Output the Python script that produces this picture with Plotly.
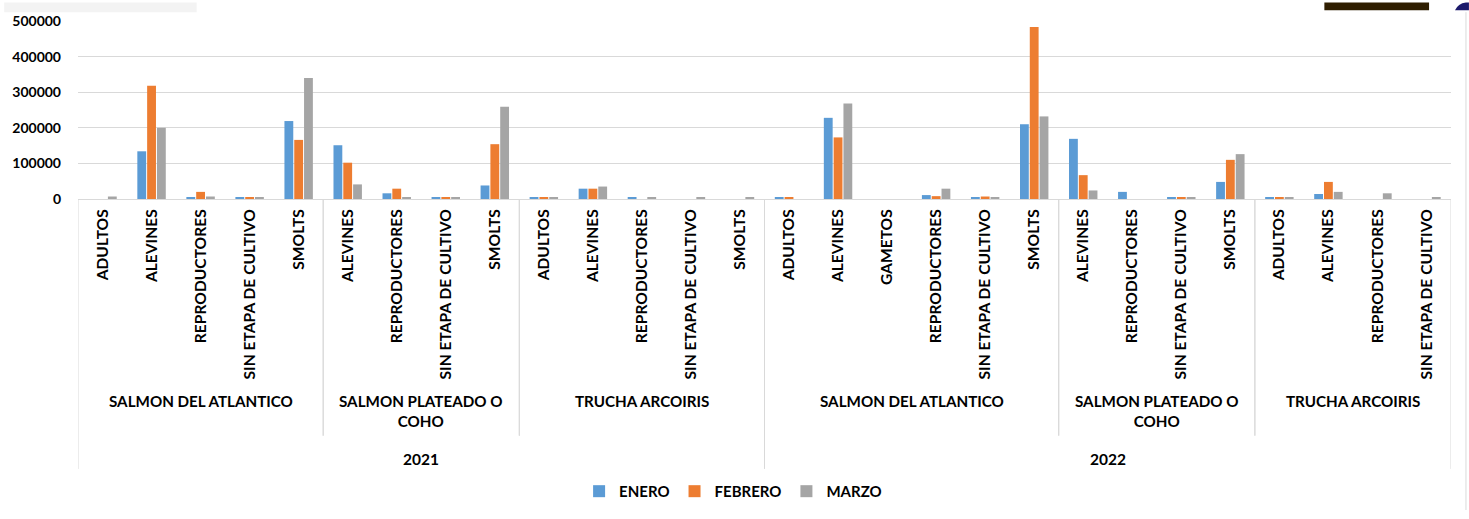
import plotly.graph_objects as go

# ---------------- data ----------------
years = ["2021"] * 14 + ["2022"] * 14
species = (["SALMON DEL ATLANTICO"] * 5 + ["SALMON PLATEADO O COHO"] * 4 + ["TRUCHA ARCOIRIS"] * 5 +
           ["SALMON DEL ATLANTICO"] * 6 + ["SALMON PLATEADO O COHO"] * 4 + ["TRUCHA ARCOIRIS"] * 4)
stages = ["ADULTOS", "ALEVINES", "REPRODUCTORES", "SIN ETAPA DE CULTIVO", "SMOLTS",
          "ALEVINES", "REPRODUCTORES", "SIN ETAPA DE CULTIVO", "SMOLTS",
          "ADULTOS", "ALEVINES", "REPRODUCTORES", "SIN ETAPA DE CULTIVO", "SMOLTS",
          "ADULTOS", "ALEVINES", "GAMETOS", "REPRODUCTORES", "SIN ETAPA DE CULTIVO", "SMOLTS",
          "ALEVINES", "REPRODUCTORES", "SIN ETAPA DE CULTIVO", "SMOLTS",
          "ADULTOS", "ALEVINES", "REPRODUCTORES", "SIN ETAPA DE CULTIVO"]

enero = [0, 134000, 4000, 3000, 219000,
         151000, 16000, 3000, 38000,
         3000, 29000, 3000, 0, 0,
         3000, 228000, 0, 11000, 3000, 210000,
         169000, 20000, 3000, 48000,
         3000, 14000, 0, 0]
febrero = [0, 318000, 20000, 3000, 166000,
           102000, 29000, 3000, 154000,
           3000, 29000, 0, 0, 0,
           3000, 173000, 0, 8000, 7000, 483000,
           67000, 0, 3000, 110000,
           3000, 48000, 0, 0]
marzo = [7000, 200000, 7000, 3000, 340000,
         41000, 3000, 3000, 259000,
         3000, 35000, 3000, 3000, 3000,
         0, 268000, 0, 29000, 3000, 232000,
         24000, 0, 3000, 126000,
         3000, 20000, 16000, 3000]

series_names = ["ENERO", "FEBRERO", "MARZO"]
series_colors = ["#5B9BD5", "#ED7D31", "#A5A5A5"]
y_ticks = [0, 100000, 200000, 300000, 400000, 500000]

# ---------------- figure ----------------
FONT = "Lato, Calibri, Carlito, sans-serif"
W, H = 1469, 519
ML, MR, MT, MB = 74, 18, 19, 318
plot_h = H - MT - MB


def py(px):
    """pixel row -> paper y"""
    return (H - MB - px) / plot_h


x = list(range(len(stages)))
fig = go.Figure()
for name, vals, col in zip(series_names, [enero, febrero, marzo], series_colors):
    fig.add_trace(go.Bar(x=x, y=vals, name=name, marker=dict(color=col, line=dict(width=0))))


def runs(keys):
    out = []
    start = 0
    for i in range(1, len(keys) + 1):
        if i == len(keys) or keys[i] != keys[start]:
            out.append((start, i - 1, keys[start]))
            start = i
    return out


sp_keys = [(y, s) for y, s in zip(years, species)]
sp_runs = runs(sp_keys)
yr_runs = runs(years)

shapes = []
annotations = []
line_col = "#D9D9D9"

for a, b, key in sp_runs:
    label = key[1]
    if label == "SALMON PLATEADO O COHO":
        label = "SALMON PLATEADO O<br>COHO"
    annotations.append(dict(x=(a + b) / 2, y=py(396), xref="x", yref="paper", text=label,
                            showarrow=False, yanchor="top", xanchor="center",
                            font=dict(family=FONT, size=15.2, color="#000000", weight="bold")))
yr_bounds = set()
for a, b, key in yr_runs:
    yr_bounds.add(a - 0.5)
    yr_bounds.add(b + 0.5)
    annotations.append(dict(x=(a + b) / 2, y=py(467), xref="x", yref="paper", text=key,
                            showarrow=False, yanchor="middle", xanchor="center",
                            font=dict(family=FONT, size=15.5, color="#000000", weight="bold")))
for a, b, key in sp_runs:
    for xb in (a - 0.5, b + 0.5):
        if xb not in yr_bounds:
            shapes.append(dict(type="line", xref="x", yref="paper", x0=xb, x1=xb,
                               y0=0, y1=py(443), line=dict(color=line_col, width=1)))
for xb in sorted(yr_bounds):
    shapes.append(dict(type="line", xref="x", yref="paper", x0=xb, x1=xb,
                       y0=0, y1=py(477), line=dict(color=line_col, width=1)))

# screenshot artefacts around the chart
pw = W - ML - MR


def pxp(px):
    return (px - ML) / pw


shapes.append(dict(type="rect", xref="paper", yref="paper", x0=pxp(0), x1=pxp(193),
                   y0=py(10), y1=py(0), fillcolor="#F3F3F3", line=dict(width=0), layer="below"))
shapes.append(dict(type="rect", xref="paper", yref="paper", x0=pxp(1324), x1=pxp(1429),
                   y0=py(8), y1=py(0), fillcolor="#2F1E00", line=dict(width=0)))
shapes.append(dict(type="path", xref="paper", yref="paper",
                   path=f"M {pxp(1455)},{py(8)} Q {pxp(1458)},{py(1)} {pxp(1466)},{py(0)} L {pxp(1469)},{py(0)} L {pxp(1469)},{py(8)} Z",
                   fillcolor="#1C1A6B", line=dict(width=0)))
shapes.append(dict(type="line", xref="paper", yref="paper", x0=pxp(1466), x1=pxp(1466),
                   y0=py(519), y1=py(10), line=dict(color="#DADADA", width=1)))

fig.update_layout(
    width=W, height=H,
    margin=dict(l=ML, r=MR, t=MT, b=MB, pad=0),
    paper_bgcolor="white", plot_bgcolor="white",
    barmode="group", bargap=0.4, bargroupgap=0.1,
    shapes=shapes, annotations=annotations,
    showlegend=True,
    legend=dict(orientation="h", x=pxp(731), xanchor="center", y=py(500), yanchor="middle",
                font=dict(family=FONT, size=15, color="#000000", weight="bold"),
                itemwidth=30, traceorder="normal"),
    font=dict(family=FONT),
)
fig.update_xaxes(range=[-0.5, len(stages) - 0.5], tickmode="array", tickvals=x, ticktext=stages,
                 tickangle=-90, showgrid=False, zeroline=False, showline=True,
                 linecolor=line_col, linewidth=1, ticks="", ticklabelstandoff=3,
                 tickfont=dict(family=FONT, size=15.6, color="#000000", weight="bold"))
fig.update_yaxes(range=[0, 500000], tickmode="array", tickvals=y_ticks,
                 ticktext=[str(v) for v in y_ticks], showgrid=True, gridcolor=line_col,
                 gridwidth=1, zeroline=False, showline=False, ticks="", ticklabelstandoff=16,
                 tickfont=dict(family=FONT, size=14, color="#000000", weight="bold"))

fig.write_html("out.html", config={"displayModeBar": False},
               post_script="document.body.style.margin='0px';document.body.style.overflow='hidden';")
